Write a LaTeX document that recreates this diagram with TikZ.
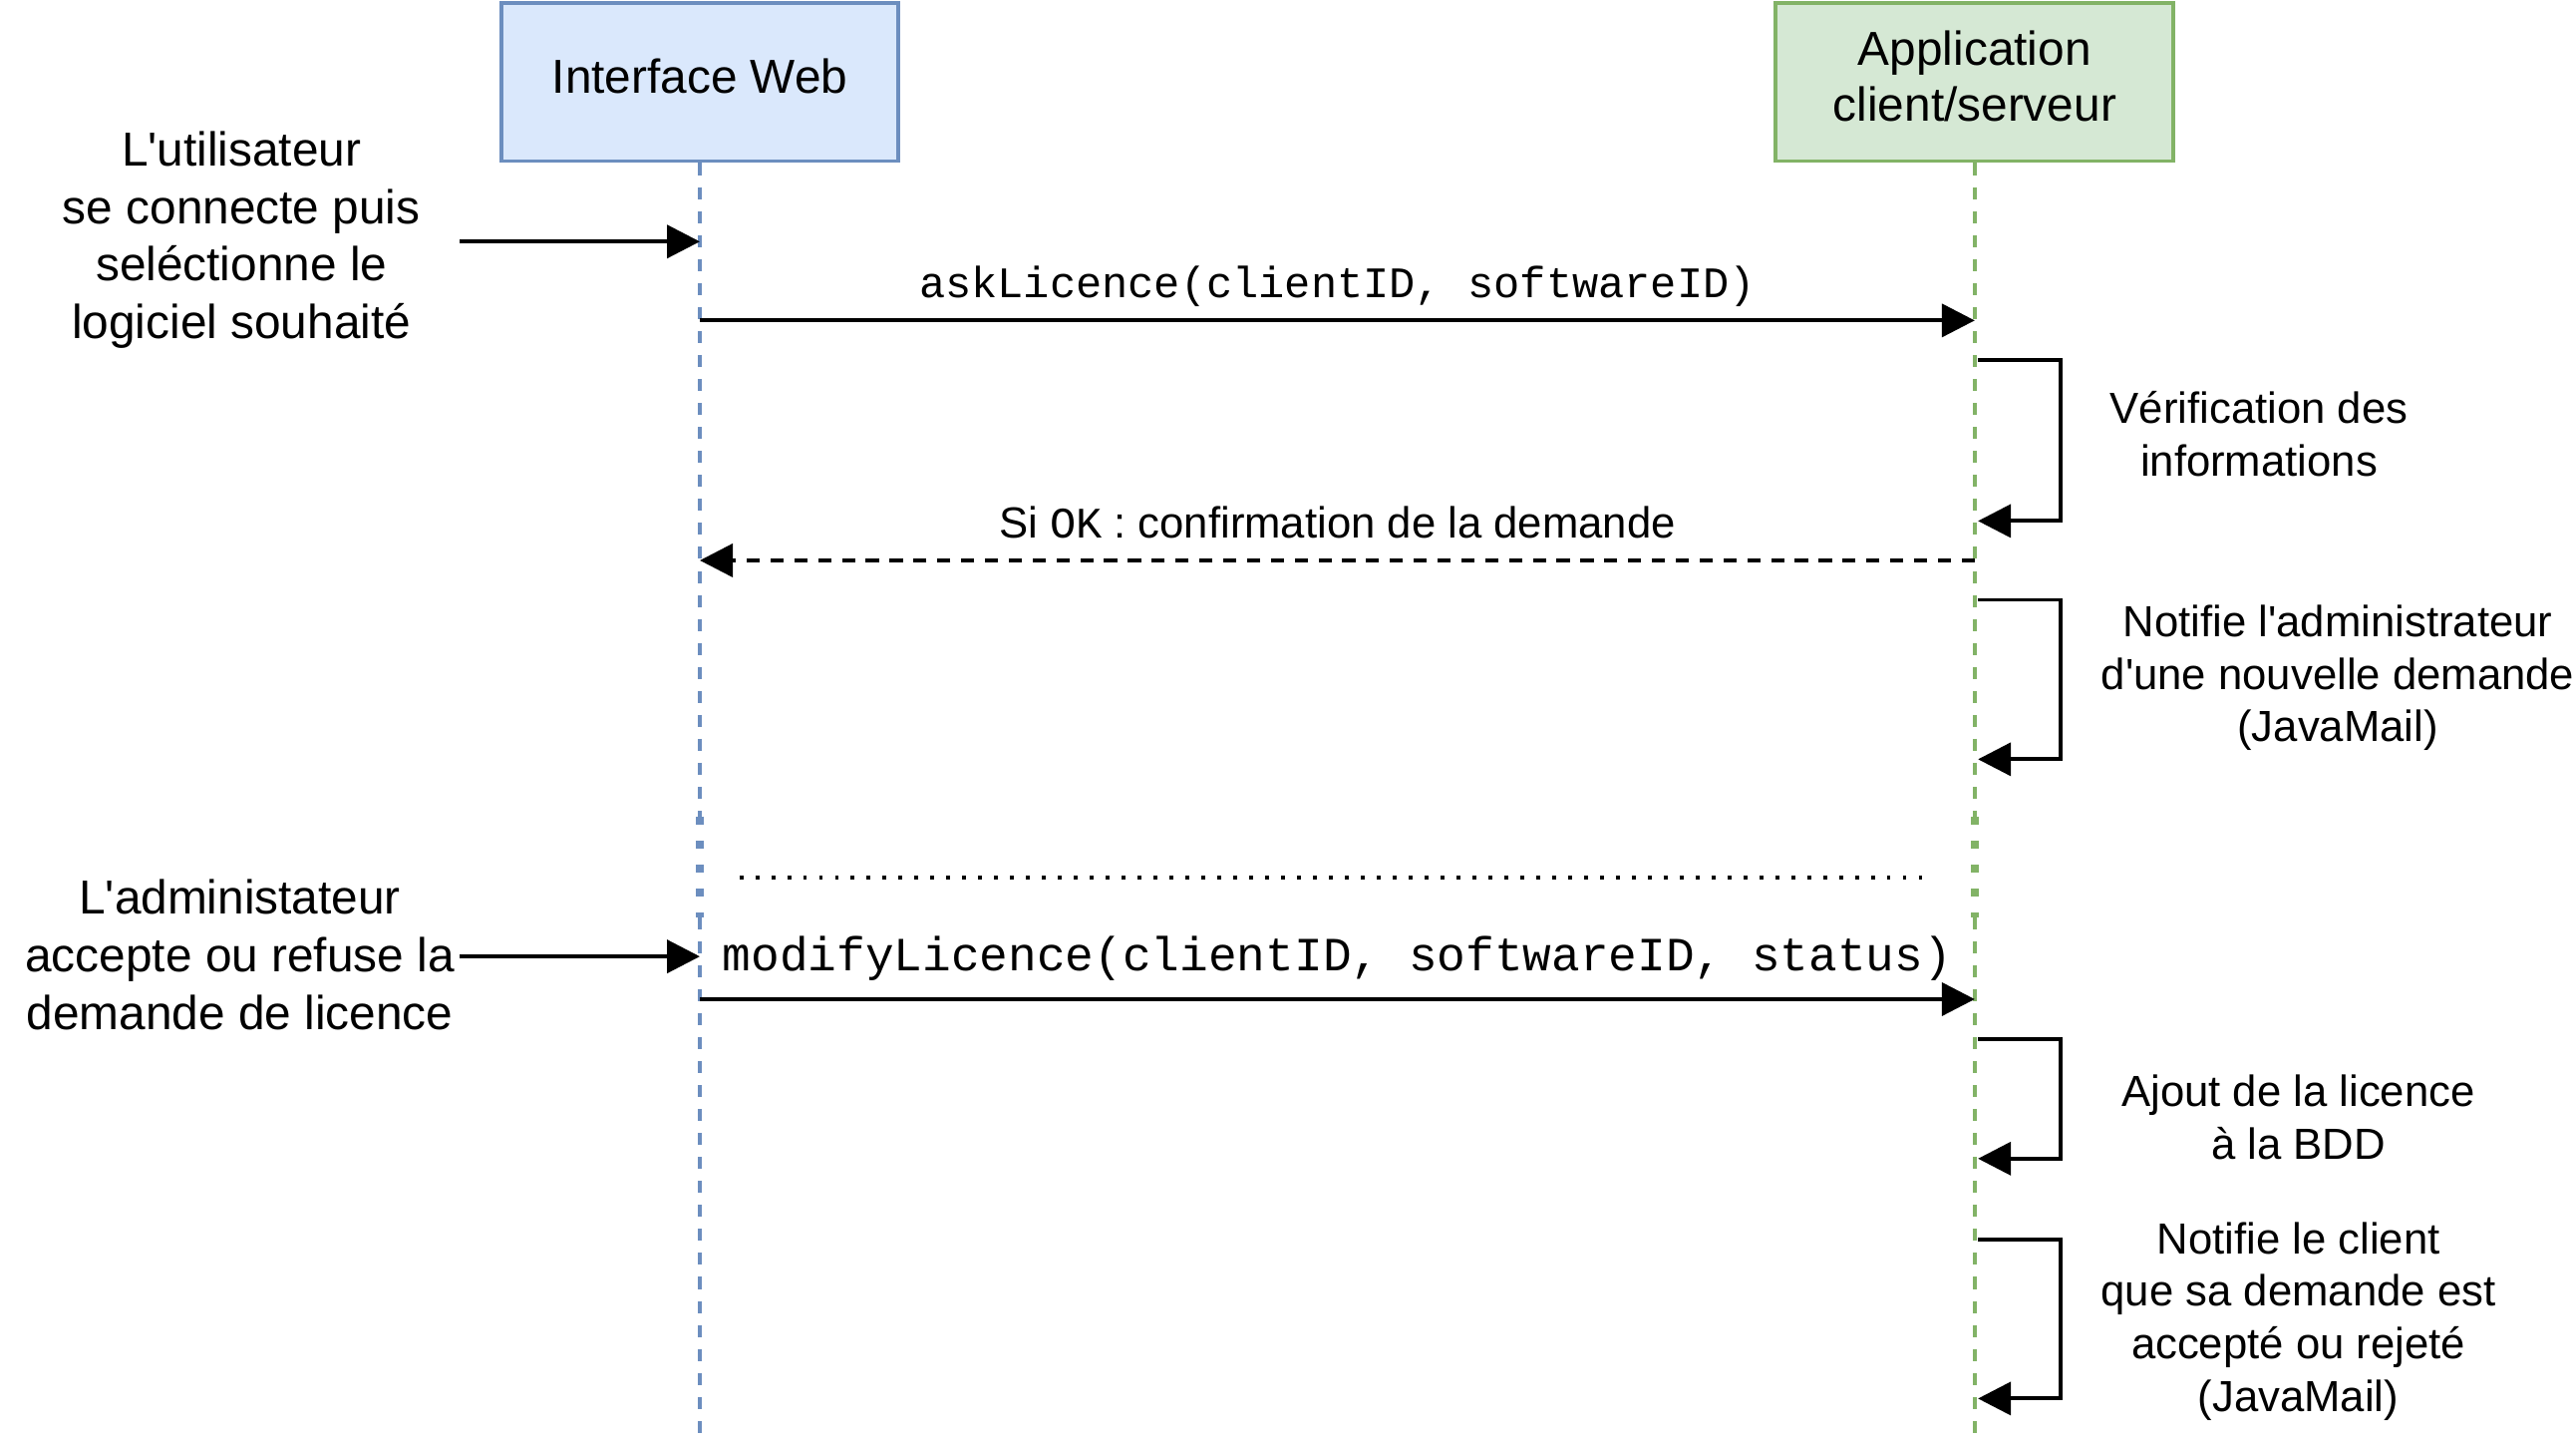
\documentclass[tikz,border=0pt]{standalone}
\usepackage{fontspec}
\setmainfont{Liberation Sans}
\setmonofont{Liberation Mono}
\usetikzlibrary{arrows.meta}

\definecolor{webfill}{HTML}{DAE8FC}
\definecolor{webdraw}{HTML}{6C8EBF}
\definecolor{appfill}{HTML}{D5E8D4}
\definecolor{appdraw}{HTML}{82B366}

\newcommand{\bigfont}{\fontsize{29}{35}\selectfont}
\newcommand{\boxfont}{\fontsize{29}{34}\selectfont}
\newcommand{\smallfont}{\fontsize{26.5}{32}\selectfont}
\newcommand{\q}{\textquotesingle}

\begin{document}
\begin{tikzpicture} [
    x=1pt, y=-1pt,
    actor/.style    = { rectangle, line width=2.4pt, minimum width=242pt,
                        minimum height=96pt, align=center, font=\boxfont },
    note/.style     = { align=center, inner sep=0pt, font=\smallfont },
    bignote/.style  = { align=center, inner sep=0pt, font=\bigfont },
    lifeline/.style = { line width=2.4pt, dash pattern=on 7.3pt off 7.3pt },
    gapline/.style  = { line width=5.3pt, dash pattern=on 4.7pt off 9.9pt },
    msg/.style      = { draw, line width=2.4pt, -{Triangle[length=20pt, width=20pt]} },
    reply/.style    = { msg, dash pattern=on 8pt off 6.5pt },
  ]
  \useasboundingbox (0,0) rectangle (1568,879);

  % participants
  \node[actor, fill=webfill, draw=webdraw, text depth=8pt] (web) at (426,50) {Interface Web};
  \node[actor, fill=appfill, draw=appdraw, text depth=8pt] (app) at (1202,50) {Application\\client/serveur};

  % lifelines
  \coordinate (web-gap-top) at (426,497);
  \coordinate (web-gap-bot) at (426,558);
  \coordinate (web-end)     at (426,879);
  \coordinate (app-gap-top) at (1202,497);
  \coordinate (app-gap-bot) at (1202,558);
  \coordinate (app-end)     at (1202,879);
  \draw[lifeline, draw=webdraw] (web.south) -- (web-gap-top);
  \draw[gapline,  draw=webdraw] (web-gap-top) -- (web-gap-bot);
  \draw[lifeline, draw=webdraw] (web-gap-bot) -- (web-end);
  \draw[lifeline, draw=appdraw] (app.south) -- (app-gap-top);
  \draw[gapline,  draw=appdraw] (app-gap-top) -- (app-gap-bot);
  \draw[lifeline, draw=appdraw] (app-gap-bot) -- (app-end);

  % texts
  \node[bignote] (user)  at (147,146) {L\q utilisateur\\se connecte puis\\seléctionne le\\logiciel souhaité};
  \node[bignote] (admin) at (146,581) {L\q administateur\\accepte ou refuse la\\demande de licence};
  \node[note] (ask-label) at (814,174) {\texttt{askLicence(clientID, softwareID)}};
  \node[note] (ok-label)  at (814,318) {Si \texttt{OK} : confirmation de la demande};
  \node[bignote] (mod-label) at (814,583) {\texttt{modifyLicence(clientID, softwareID, status)}};
  \node[note] (chk-label)   at (1375,264) {Vérification des\\informations};
  \node[note] (notif-label) at (1423,412.5) {Notifie l\q administrateur\\d\q une nouvelle demande\\(JavaMail)};
  \node[note] (bdd-label)   at (1399,680) {Ajout de la licence\\à la BDD};
  \node[note] (mail-label)  at (1399,804) {Notifie le client\\que sa demande est\\accepté ou rejeté\\(JavaMail)};

  % message points
  \coordinate (user-out)  at (280,147);
  \coordinate (web-login) at (426,147);
  \coordinate (web-ask)   at (426,195);
  \coordinate (app-ask)   at (1202,195);
  \coordinate (app-ok)    at (1202,341);
  \coordinate (web-ok)    at (426,341);
  \coordinate (admin-out) at (280,582);
  \coordinate (web-admin) at (426,582);
  \coordinate (web-mod)   at (426,608);
  \coordinate (app-mod)   at (1202,608);
  \coordinate (app-chk-a)   at (1204,219);
  \coordinate (app-chk-b)   at (1204,317);
  \coordinate (app-notif-a) at (1204,365);
  \coordinate (app-notif-b) at (1204,462);
  \coordinate (app-bdd-a)   at (1204,632);
  \coordinate (app-bdd-b)   at (1204,705);
  \coordinate (app-mail-a)  at (1204,754);
  \coordinate (app-mail-b)  at (1204,851);
  \coordinate (gap-left)  at (450,534);
  \coordinate (gap-right) at (1172,534);

  % connect the nodes
  \path [msg] (user-out) -- (web-login);
  \path [msg] (web-ask) -- (app-ask);
  \path [msg] (app-chk-a) -- ++(50,0) |- (app-chk-b);
  \path [reply] (app-ok) -- (web-ok);
  \path [msg] (app-notif-a) -- ++(50,0) |- (app-notif-b);
  \draw [line width=2.4pt, dash pattern=on 2.4pt off 7.3pt] (gap-left) -- (gap-right);
  \path [msg] (admin-out) -- (web-admin);
  \path [msg] (web-mod) -- (app-mod);
  \path [msg] (app-bdd-a) -- ++(50,0) |- (app-bdd-b);
  \path [msg] (app-mail-a) -- ++(50,0) |- (app-mail-b);
\end{tikzpicture}
\end{document}
